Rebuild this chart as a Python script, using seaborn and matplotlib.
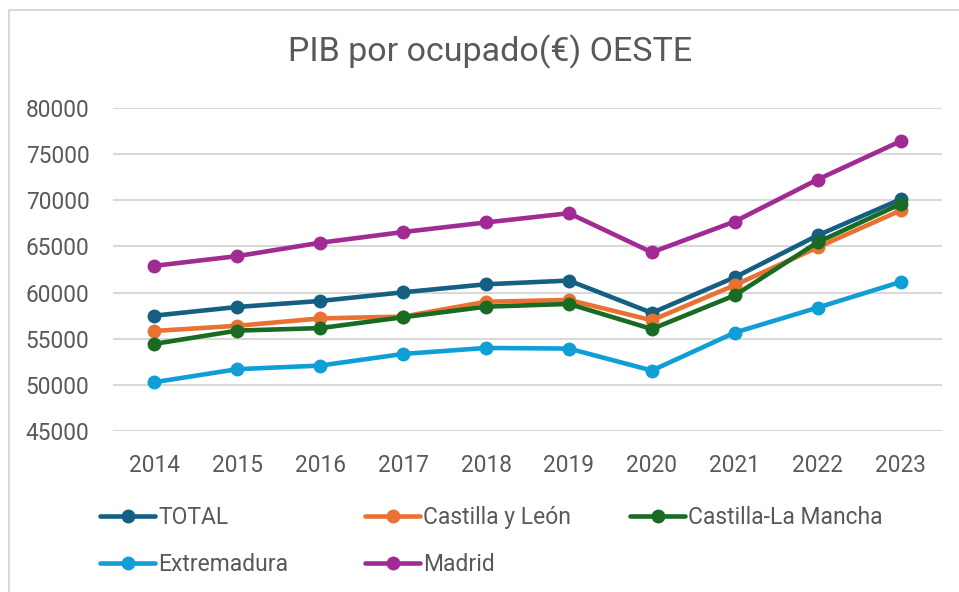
import matplotlib
matplotlib.use("Agg")
import matplotlib.pyplot as plt
from matplotlib.lines import Line2D
import seaborn as sns
import pandas as pd

years = [2014, 2015, 2016, 2017, 2018, 2019, 2020, 2021, 2022, 2023]
total = [57500, 58440, 59090, 60030, 60900, 61300, 57800, 61650, 66200, 70100]
castilla_leon = [55840, 56400, 57200, 57400, 59000, 59200, 57000, 60800, 64900, 68900]
castilla_la_mancha = [54440, 55880, 56150, 57330, 58470, 58770, 56050, 59700, 65450, 69600]
extremadura = [50290, 51700, 52090, 53350, 54000, 53930, 51550, 55660, 58370, 61150]
madrid = [62900, 63950, 65400, 66560, 67600, 68600, 64360, 67700, 72250, 76400]

series_names = ["TOTAL", "Castilla y León", "Castilla-La Mancha", "Extremadura", "Madrid"]
series_values = [total, castilla_leon, castilla_la_mancha, extremadura, madrid]
colors = ["#156082", "#E97132", "#196B24", "#0F9ED5", "#A02B93"]
y_ticks = [45000, 50000, 55000, 60000, 65000, 70000, 75000, 80000]
title = "PIB por ocupado(€) OESTE"

rows = []
for name, vals in zip(series_names, series_values):
    for y, v in zip(years, vals):
        rows.append({"Año": y, "Valor": v, "Serie": name})
df = pd.DataFrame(rows)

sns.set_theme(style="white")
plt.rcParams["font.family"] = ["Roboto", "DejaVu Sans"]
text_color = "#595959"
grid_color = "#D9D9D9"

fig = plt.figure(figsize=(9.59, 5.92), dpi=100)
ax = fig.add_axes([113 / 959, 161 / 592, 829 / 959, 323 / 592])

palette = dict(zip(series_names, colors))
sns.lineplot(data=df, x="Año", y="Valor", hue="Serie", hue_order=series_names,
             palette=palette, marker="o", markersize=10, linewidth=3.3,
             markeredgewidth=0, legend=False, ax=ax, zorder=3)

ax.set_xlim(years[0] - 0.5, years[-1] + 0.5)
ax.set_ylim(y_ticks[0], y_ticks[-1])
ax.set_xticks(years)
ax.set_xticklabels([str(y) for y in years])
ax.set_yticks(y_ticks)
ax.set_yticklabels([str(t) for t in y_ticks])
ax.tick_params(axis="both", length=0, labelsize=16.3, colors=text_color)
ax.tick_params(axis="x", pad=16.5)
ax.tick_params(axis="y", pad=17)
ax.set_xlabel("")
ax.set_ylabel("")
for s in ax.spines.values():
    s.set_visible(False)
ax.yaxis.grid(True, color=grid_color, linewidth=1.5)
ax.set_axisbelow(True)

fig.text(490 / 959, 1 - 52 / 592, title, ha="center", va="center",
         fontsize=24.5, color=text_color)

handles = [Line2D([], [], color=c, linewidth=3.3, marker="o", markersize=10,
                  markeredgewidth=0) for c in colors]
cols = [[0, 3], [1, 4], [2]]
col_x = [100, 365, 630]
for xi, idx in zip(col_x, cols):
    leg = fig.legend([handles[i] for i in idx], [series_names[i] for i in idx],
                     loc="upper left", bbox_to_anchor=(xi / 959, 1 - 506 / 592),
                     frameon=False, fontsize=16.5, handlelength=2.4,
                     handletextpad=0.13, labelspacing=1.05, borderpad=0,
                     borderaxespad=0)
    for t in leg.get_texts():
        t.set_color(text_color)

fig.add_artist(Line2D([9 / 959, 9 / 959], [0, 1 - 9.5 / 592], color=grid_color,
                      linewidth=1.5, transform=fig.transFigure))
fig.add_artist(Line2D([9 / 959, 1], [1 - 9.5 / 592, 1 - 9.5 / 592], color=grid_color,
                      linewidth=1.5, transform=fig.transFigure))

fig.savefig("out.png", dpi=100, facecolor="white")
